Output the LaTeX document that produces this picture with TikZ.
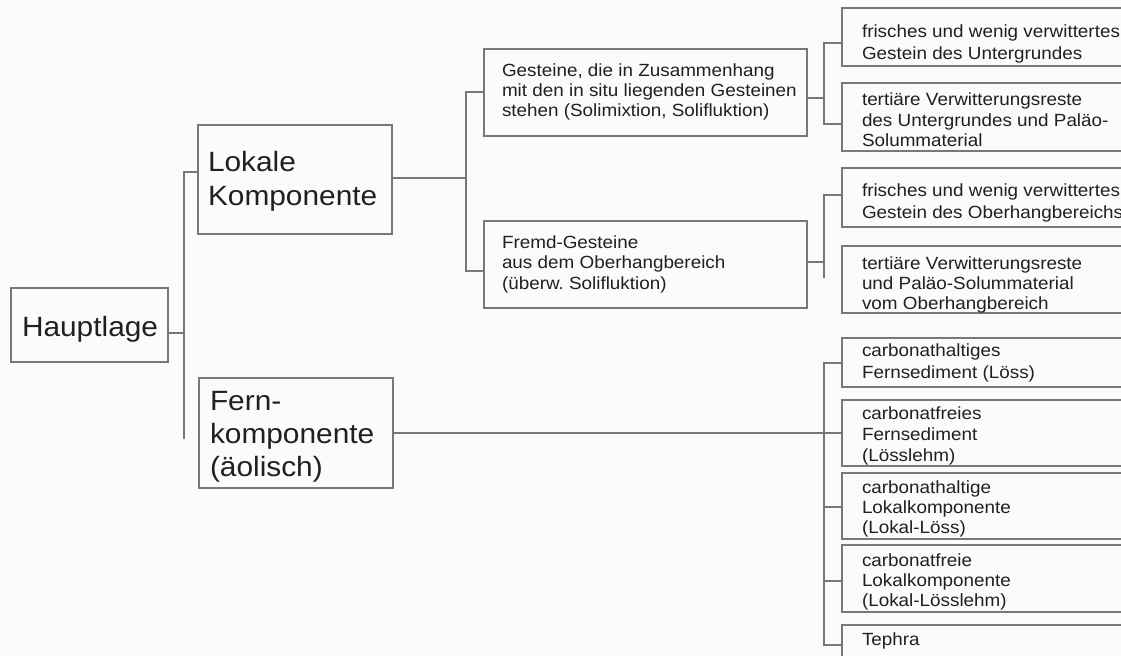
\documentclass[tikz,border=0pt]{standalone}
\usepackage{fontspec}
\setmainfont{Liberation Sans}[FakeStretch=1.07]
\usetikzlibrary{fit}
\definecolor{linec}{RGB}{120,120,120}
\definecolor{textc}{RGB}{32,32,32}
\definecolor{bgc}{RGB}{251,251,251}
\newcommand{\mlines}[3]{\parbox[t]{12cm}{\fontsize{#1}{#2}\selectfont\frenchspacing\raggedright #3}}
\tikzset{
  box/.style={draw=linec, line width=1.5bp, inner sep=0pt, outer sep=0pt, rectangle},
  conn/.style={draw=linec, line width=1.5bp},
  txt/.style={anchor=base west, inner sep=0pt, outer sep=0pt, text=textc},
}
\begin{document}
\begin{tikzpicture}[x=1bp, y=-1bp]
\useasboundingbox (0,0) rectangle (1121,656);
\fill[bgc] (0,0) rectangle (1121,656);
\clip (0,0) rectangle (1121,656);

% boxes
\node[box, fit={(11,288) (168,362)}] (H) {};
\node[box, fit={(198,125) (392,234)}] (LK) {};
\node[box, fit={(199,378) (393,488)}] (FK) {};
\node[box, fit={(484,49) (807,136)}] (G) {};
\node[box, fit={(484,221) (807,308)}] (FG) {};
\node[box, fit={(842,8) (1130,66)}] (R1) {};
\node[box, fit={(842,83) (1130,151)}] (R2) {};
\node[box, fit={(842,168) (1130,227)}] (R3) {};
\node[box, fit={(842,246) (1130,313)}] (R4) {};
\node[box, fit={(842,338) (1130,387)}] (R5) {};
\node[box, fit={(842,400) (1130,466)}] (R6) {};
\node[box, fit={(842,473) (1130,539)}] (R7) {};
\node[box, fit={(842,545) (1130,612)}] (R8) {};
\node[box, fit={(842,625) (1130,672)}] (R9) {};

% texts
\node[txt] (tH) at (22,336) {\mlines{28}{34}{Hauptlage}};
\node[txt] (tLK) at (208,172) {\mlines{28}{34}{Lokale\\Komponente}};
\node[txt] (tFK) at (210,410) {\mlines{28}{33.5}{Fern-\\komponente\\(äolisch)}};
\node[txt] (tG) at (502,77) {\mlines{17.7}{20}{Gesteine, die in Zusammenhang\\mit den in situ liegenden Gesteinen\\stehen (Solimixtion, Solifluktion)}};
\node[txt] (tFG) at (502,248) {\mlines{17.7}{21}{Fremd-Gesteine\\aus dem Oberhangbereich\\(überw. Solifluktion)}};
\node[txt] (tR1) at (862,38) {\mlines{17.7}{21.5}{frisches und wenig verwittertes\\Gestein des Untergrundes}};
\node[txt] (tR2) at (862,106) {\mlines{17.7}{20.5}{tertiäre Verwitterungsreste\\des Untergrundes und Paläo-\\Solummaterial}};
\node[txt] (tR3) at (862,197) {\mlines{17.7}{21.5}{frisches und wenig verwittertes\\Gestein des Oberhangbereichs}};
\node[txt] (tR4) at (862,269) {\mlines{17.7}{20.5}{tertiäre Verwitterungsreste\\und Paläo-Solummaterial\\vom Oberhangbereich}};
\node[txt] (tR5) at (862,356.5) {\mlines{17.7}{22}{carbonathaltiges\\Fernsediment (Löss)}};
\node[txt] (tR6) at (862,419) {\mlines{17.7}{21.3}{carbonatfreies\\Fernsediment\\(Lösslehm)}};
\node[txt] (tR7) at (862,493) {\mlines{17.7}{20.5}{carbonathaltige\\Lokalkomponente\\(Lokal-Löss)}};
\node[txt] (tR8) at (862,566) {\mlines{17.7}{20.5}{carbonatfreie\\Lokalkomponente\\(Lokal-Lösslehm)}};
\node[txt] (tR9) at (862,645) {\mlines{17.7}{21}{Tephra}};

% connectors: Hauptlage
\coordinate (hJ) at (184,333);
\coordinate (hT) at (184,172);
\coordinate (hB) at (184,439);
\draw[conn] (H.east |- hJ) -- (hJ);
\draw[conn] (LK.west |- hT) -- (hT) -- (hB);

% Lokale Komponente
\coordinate (lJ) at (466,178);
\coordinate (lT) at (466,92);
\coordinate (lB) at (466,271);
\draw[conn] (LK.east |- lJ) -- (lJ);
\draw[conn] (G.west |- lT) -- (lT) -- (lB) -- (FG.west |- lB);

% Gesteine
\coordinate (gJ) at (824,98);
\coordinate (gT) at (824,43);
\coordinate (gB) at (824,124);
\draw[conn] (G.east |- gJ) -- (gJ);
\draw[conn] (R1.west |- gT) -- (gT) -- (gB) -- (R2.west |- gB);

% Fremd-Gesteine
\coordinate (fJ) at (824,262);
\coordinate (fT) at (824,195);
\coordinate (fB) at (824,278);
\draw[conn] (FG.east |- fJ) -- (fJ);
\draw[conn] (R3.west |- fT) -- (fT) -- (fB);

% Fernkomponente
\coordinate (eT) at (824,363);
\coordinate (eB) at (824,645);
\coordinate (s7) at (824,507);
\coordinate (s8) at (824,581);
\draw[conn] (FK.east) -- (R6.west |- FK.east);
\draw[conn] (R5.west |- eT) -- (eT) -- (eB) -- (R9.west |- eB);
\draw[conn] (s7) -- (R7.west |- s7);
\draw[conn] (s8) -- (R8.west |- s8);
\end{tikzpicture}
\end{document}
